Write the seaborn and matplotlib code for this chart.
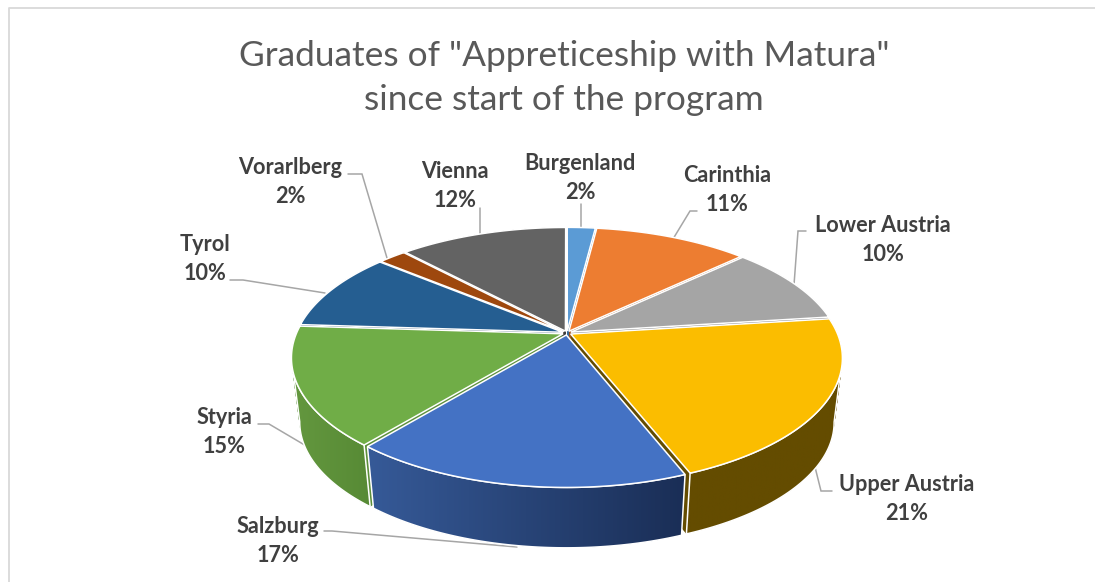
import numpy as np
import seaborn as sns
import matplotlib
matplotlib.use('Agg')
import matplotlib.pyplot as plt
from matplotlib.patches import Polygon
from matplotlib.path import Path
from matplotlib.transforms import Transform, Affine2D

# shares of graduates per province (percent)
regions = ['Burgenland', 'Carinthia', 'Lower Austria', 'Upper Austria', 'Salzburg',
           'Styria', 'Tyrol', 'Vorarlberg', 'Vienna']
shares = [2, 11, 10, 21, 17, 15, 10, 2, 12]
top_colors = ['#5B9BD5', '#ED7D31', '#A5A5A5', '#FBBD00', '#4472C4',
              '#70AD47', '#255E91', '#9E480E', '#636363']
side_colors = ['#3A6A96', '#A3551F', '#737373', '#644C00', '#2A4480',
               '#5C8F3A', '#173B5C', '#602B08', '#3E3E3E']

# label centres and leader lines, in reference pixels
label_pos = [(580, 178), (727, 190), (883, 240), (907, 499), (278, 541),
             (224, 432), (205, 259), (290, 182), (455, 186)]
leaders = [[(581, 204), (581, 229)],
           [(697, 211), (690, 211), (673, 239)],
           [(806, 231), (798, 231), (794, 285)],
           [(832, 491), (821, 491), (814, 463)],
           [(324, 531), (332, 531), (517, 547)],
           [(258, 424), (269, 424), (308, 447)],
           [(230, 280), (243, 280), (325, 293)],
           [(348, 174), (362, 174), (387, 258)],
           [(480, 208), (480, 235)]]

sns.set_theme(style='white')
plt.rcParams['font.family'] = ['Lato', 'DejaVu Sans']

CX, CY = 567, 333
TILT = 0.1848
WIDTH, HEIGHT = 266.5, 123.5
DEPTH, SHRINK = 65, 0.03
N_LAYERS = 70
EXPLODE = 0.016


def project(xy, d=0.0):
    # perspective of the pie plane, d = 0 top face, d = 1 bottom face
    x, y = np.asarray(xy, float).T
    w = 1 + TILT * y
    s = 1 - SHRINK * d
    return np.column_stack([CX + s * WIDTH * x / w, CY + DEPTH * d - s * HEIGHT * y / w])


class PieProjection(Transform):
    input_dims = 2
    output_dims = 2

    def __init__(self, d):
        super().__init__()
        self.d = d

    def transform_non_affine(self, values):
        return project(values, self.d)

    def transform_path_non_affine(self, path):
        # flatten the arcs first, at a fine scale so the rim stays smooth
        polys = path.to_polygons(Affine2D().scale(2000), closed_only=False)
        return Path(self.transform_non_affine(np.vstack(polys) / 2000))


def draw_pie(ax, colors, d, **wedgeprops):
    wedges, _ = ax.pie(shares, colors=colors, startangle=90, counterclock=False,
                       explode=[EXPLODE] * len(shares), wedgeprops=wedgeprops)
    tr = PieProjection(d) + ax.transData
    for w in wedges:
        w.set_transform(tr)
    return wedges


def wall_points(w):
    # only the part of the rim that faces the viewer
    edge = np.degrees(np.arcsin(TILT))
    t1, t2 = max(w.theta1, -180 + edge), min(w.theta2, -edge)
    t = np.radians(np.linspace(t1, t2, 90))
    arc = np.column_stack([w.center[0] + w.r * np.cos(t), w.center[1] + w.r * np.sin(t)])
    return np.vstack([project(arc, 0), project(arc, 1)[::-1]])


fig = plt.figure(figsize=(10.95, 5.82), dpi=100)
ax = fig.add_axes([0, 0, 1, 1])

# stacked pies make the thickness of the disc
for d in np.linspace(1, 0, N_LAYERS):
    wedges = draw_pie(ax, side_colors, d, edgecolor='none', linewidth=0)

# outer walls: white edge, Salzburg and Styria with a gradient
gradients = {'Salzburg': ('#365A98', '#1A2E56'), 'Styria': ('#64983F', '#578A35'),
             'Upper Austria': ('#644C00', '#644C00')}
for name, (c0, c1) in gradients.items():
    w = wedges[regions.index(name)]
    pts = wall_points(w)
    cmap = sns.blend_palette([c0, c1], as_cmap=True)
    x0, x1, y0, y1 = pts[:, 0].min(), pts[:, 0].max(), pts[:, 1].min(), pts[:, 1].max()
    grad = ax.imshow(np.linspace(0, 1, 256).reshape(1, -1), cmap=cmap, aspect='auto',
                     extent=(x0, x1, y1, y0), zorder=2)
    outline = Polygon(pts, closed=True, transform=ax.transData, facecolor='none',
                      edgecolor='white', linewidth=1.1, zorder=3)
    ax.add_patch(outline)
    grad.set_clip_path(outline)

# top face
top = draw_pie(ax, top_colors, 0, edgecolor='white', linewidth=1.1, zorder=4)

ax.set_aspect('auto')
ax.set_xlim(0, 1095)
ax.set_ylim(582, 0)
ax.axis('off')

# leader lines and labels
for line in leaders:
    xs, ys = zip(*line)
    ax.plot(xs, ys, color='#A6A6A6', linewidth=1.1, zorder=1, solid_joinstyle='miter')
for name, share, (x, y) in zip(regions, shares, label_pos):
    ax.text(x, y, f'{name}\n{share}%', ha='center', va='center', fontsize=15.6,
            fontweight='bold', color='#404040', linespacing=1.47, zorder=6)

ax.text(564, 78, 'Graduates of "Appreticeship with Matura"\nsince start of the program',
        ha='center', va='center', fontsize=25.4, color='#595959', linespacing=1.45)

# chart frame
ax.plot([9, 9, 1095], [582, 8, 8], color='#D9D9D9', linewidth=1.3)

fig.savefig('out.png', dpi=100, facecolor='white')
